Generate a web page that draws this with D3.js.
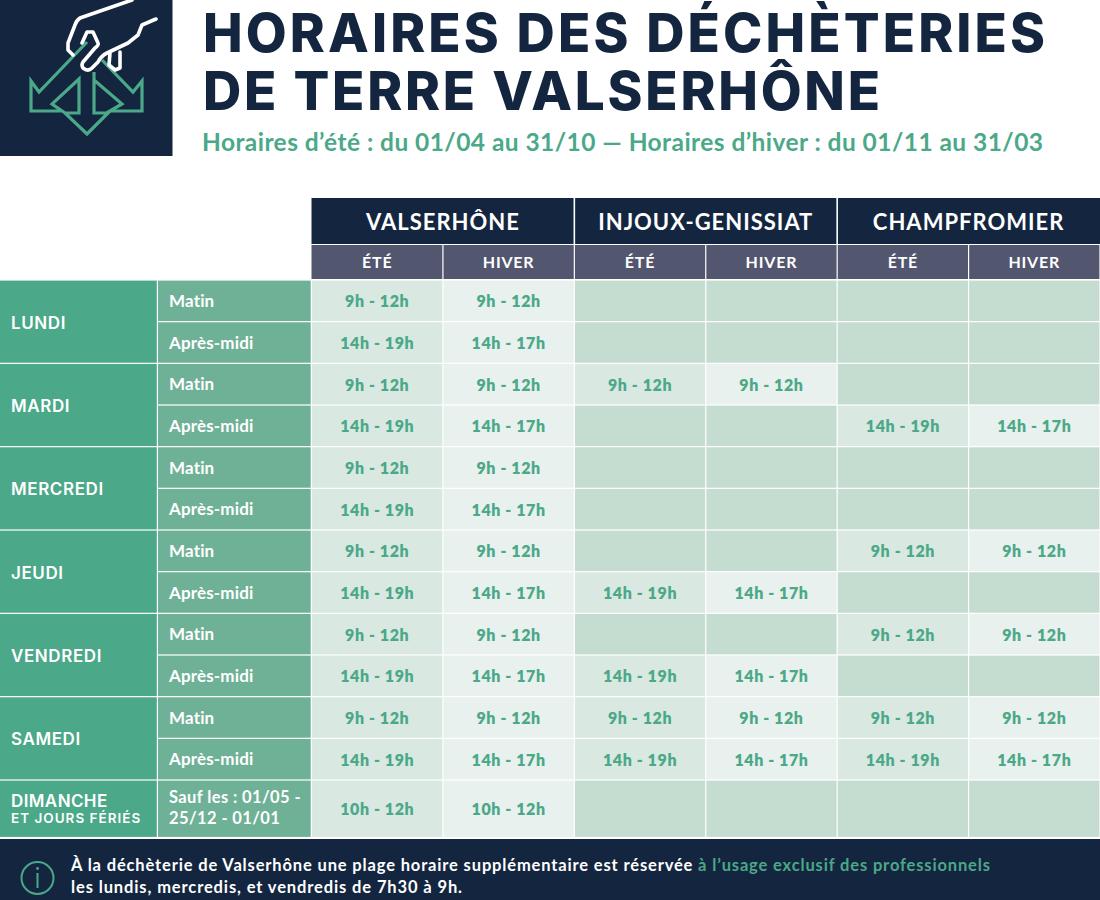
<!DOCTYPE html>
<html lang="fr"><head><meta charset="utf-8">
<script src="https://cdn.jsdelivr.net/npm/d3@7"></script>
<style>html,body{margin:0;padding:0;background:#fff;overflow:hidden}svg{display:block}text{font-family:Lato,"Noto Sans",sans-serif}.inter{font-family:Inter,Lato,sans-serif}</style>
</head><body><div id="c"></div>
<script>
const title1="HORAIRES DES DÉCHÈTERIES";
const title2="DE TERRE VALSERHÔNE";
const subtitle="Horaires d’été : du 01/04 au 31/10 — Horaires d’hiver : du 01/11 au 31/03";
const sites=["VALSERHÔNE","INJOUX-GENISSIAT","CHAMPFROMIER"];
const seasons=["ÉTÉ","HIVER"];
const days=["LUNDI","MARDI","MERCREDI","JEUDI","VENDREDI","SAMEDI"];
const periods=["Matin","Après-midi"];
const m="9h - 12h",e="14h - 19h",w="14h - 17h",s="10h - 12h",o="";
const valserhoneEte=[m,e,m,e,m,e,m,e,m,e,m,e,s];
const valserhoneHiver=[m,w,m,w,m,w,m,w,m,w,m,w,s];
const injouxEte=[o,o,m,o,o,o,o,e,o,e,m,e,o];
const injouxHiver=[o,o,m,o,o,o,o,w,o,w,m,w,o];
const champEte=[o,o,o,e,o,o,m,o,m,o,m,e,o];
const champHiver=[o,o,o,w,o,o,m,o,m,o,m,w,o];
const columns=[valserhoneEte,valserhoneHiver,injouxEte,injouxHiver,champEte,champHiver];
const noteA="À la déchèterie de Valserhône une plage horaire supplémentaire est réservée ";
const noteB="à l’usage exclusif des professionnels";
const noteC="les lundis, mercredis, et vendredis de 7h30 à 9h.";

const navy="#14263f",slate="#52566e",dayC="#4ba888",perC="#6fb197",ete="#d9e8e1",hiver="#e8f1ed",empty="#c5dcd1",green="#4ba888";
const svg=d3.select("#c").append("svg").attr("width",1100).attr("height",900);
const x=d3.scaleBand().domain(d3.range(6)).range([311.5,1100]);
const y=d3.scaleLinear().domain([0,12,13]).range([280,780,837.5]);
const g=1.2;
function fit(sel,len){sel.attr("textLength",len).attr("lengthAdjust","spacing");return sel;}

// titles
svg.append("rect").attr("width",172.5).attr("height",156).attr("fill",navy);
const icon=svg.append("g").attr("fill","none");
icon.append("path").attr("stroke",green).attr("stroke-width",3.2).attr("stroke-linejoin","miter")
 .attr("d","M87 42L39 92L31 81V111H62L52 104L79 79V113H65L87 134L108 113H94V72M94 80L122 104L110 111H142V81L133 92L102 60");
icon.append("path").attr("stroke","#fff").attr("stroke-width",3.6).attr("stroke-linecap","round").attr("stroke-linejoin","round")
 .attr("d","M132 0L80 18Q76 21 75 25L68 43V50L73 55M156 19L142 25L138 35L128 43L107 53Q101 56 98 62L92 68Q88 72 83 68Q81 65 83 62L95 48Q99 45 98 43L93 32H87L82 43M110 53L109 65L115 70L120 68V52");
fit(svg.append("text").attr("class","inter").attr("x",203).attr("y",52).attr("font-size",53).attr("font-weight",800).attr("fill",navy).text(title1),842);
fit(svg.append("text").attr("class","inter").attr("x",203).attr("y",110).attr("font-size",53).attr("font-weight",800).attr("fill",navy).text(title2),677);
fit(svg.append("text").attr("x",202).attr("y",151).attr("font-size",24.5).attr("font-weight",700).attr("fill",green).text(subtitle),841);

// headers
svg.selectAll(".site").data(sites).join("g").each(function(d,i){
  const x0=x(i*2),w2=x.bandwidth()*2;
  const sg=d3.select(this);
  sg.append("rect").attr("x",x0+(i?0.8:0)).attr("y",198).attr("width",w2-(i?0.8:0)-(i<2?0.8:0)).attr("height",46).attr("fill",navy);
  sg.append("text").attr("x",x0+w2/2).attr("y",229.5).attr("text-anchor","middle").attr("fill","#fff")
    .attr("font-size",22).attr("font-weight",700).attr("letter-spacing",1).text(d);
});
svg.selectAll(".sub").data(d3.range(6)).join("g").each(function(c){
  const sg=d3.select(this);
  sg.append("rect").attr("x",x(c)+(c?g/2:0)).attr("y",245).attr("width",x.bandwidth()-(c?g:g/2)).attr("height",34).attr("fill",slate);
  sg.append("text").attr("x",x(c)+x.bandwidth()/2).attr("y",268).attr("text-anchor","middle").attr("fill","#fff")
    .attr("font-size",16).attr("font-weight",700).attr("letter-spacing",0.8).text(seasons[c%2]);
});

// days
const label=svg.append("g");
days.forEach((d,i)=>{
  const top=y(i*2),bot=y(i*2+2);
  label.append("rect").attr("x",0).attr("y",top+g/2).attr("width",156.8).attr("height",bot-top-g).attr("fill",dayC);
  label.append("text").attr("class","inter").attr("x",11).attr("y",(top+bot)/2+7).attr("fill","#fff").attr("font-size",17).attr("font-weight",600).attr("letter-spacing",.6).text(d);
  periods.forEach((p,j)=>{
    const a=y(i*2+j),b=y(i*2+j+1);
    label.append("rect").attr("x",158).attr("y",a+g/2).attr("width",152.7).attr("height",b-a-g).attr("fill",perC);
    label.append("text").attr("x",169).attr("y",(a+b)/2+6).attr("fill","#fff").attr("font-size",17).attr("font-weight",700).attr("letter-spacing",.15).text(p);
  });
});
const st=y(12),sb=y(13);
label.append("rect").attr("x",0).attr("y",st+g/2).attr("width",156.8).attr("height",sb-st-g).attr("fill",dayC);
label.append("text").attr("class","inter").attr("x",11).attr("y",807).attr("fill","#fff").attr("font-size",17).attr("font-weight",600).attr("letter-spacing",.4).text("DIMANCHE");
label.append("text").attr("class","inter").attr("x",11).attr("y",823).attr("fill","#fff").attr("font-size",13.5).attr("font-weight",600).attr("letter-spacing",1).text("ET JOURS FÉRIÉS");
label.append("rect").attr("x",158).attr("y",st+g/2).attr("width",152.7).attr("height",sb-st-g).attr("fill",perC);
label.append("text").attr("x",169).attr("y",803).attr("fill","#fff").attr("font-size",16.5).attr("font-weight",700).attr("letter-spacing",.4).text("Sauf les : 01/05 -");
label.append("text").attr("x",169).attr("y",824).attr("fill","#fff").attr("font-size",16.5).attr("font-weight",700).attr("letter-spacing",.4).text("25/12 - 01/01");

// cells
columns.forEach((col,c)=>{
  const cg=svg.append("g");
  cg.selectAll("rect").data(col).join("rect")
    .attr("x",x(c)+g/2).attr("width",x.bandwidth()-g)
    .attr("y",(d,r)=>y(r)+g/2).attr("height",(d,r)=>y(r+1)-y(r)-g)
    .attr("fill",d=>d===o?empty:(c%2?hiver:ete));
  cg.selectAll("text").data(col).join("text")
    .attr("x",x(c)+x.bandwidth()/2).attr("y",(d,r)=>(y(r)+y(r+1))/2+6.5)
    .attr("text-anchor","middle").attr("fill",green).attr("font-size",16).attr("font-weight",800).attr("letter-spacing",.6)
    .text(d=>d);
});

// footer
svg.append("rect").attr("x",0).attr("y",839).attr("width",1100).attr("height",61).attr("fill",navy);
svg.append("circle").attr("cx",37.5).attr("cy",878).attr("r",16).attr("fill","none").attr("stroke",green).attr("stroke-width",2);
svg.append("line").attr("x1",37.5).attr("x2",37.5).attr("y1",873).attr("y2",888).attr("stroke",green).attr("stroke-width",2);
svg.append("circle").attr("cx",37.5).attr("cy",868.5).attr("r",1.4).attr("fill",green);
const t1=svg.append("text").attr("x",71).attr("y",871).attr("font-size",16.5).attr("font-weight",700).attr("fill","#fff");
t1.append("tspan").text(noteA);
t1.append("tspan").attr("fill",green).text(noteB);
fit(t1,919);
fit(svg.append("text").attr("x",71).attr("y",893).attr("font-size",16.5).attr("font-weight",700).attr("fill","#fff").text(noteC),391);
</script></body></html>
